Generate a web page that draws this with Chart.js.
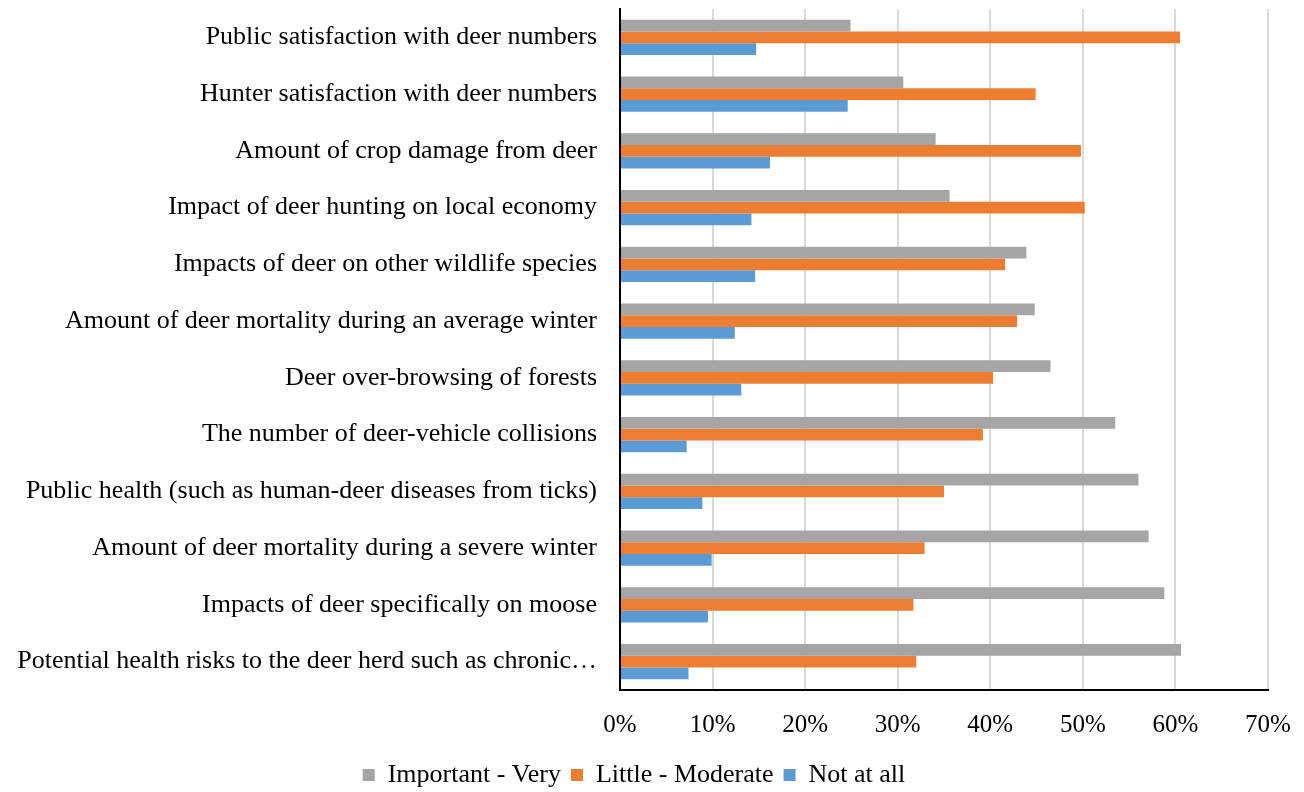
<!DOCTYPE html>
<html>
<head>
<meta charset="utf-8">
<script src="https://cdn.jsdelivr.net/npm/chart.js@4"></script>
<style>
  html, body { margin: 0; padding: 0; background: #fff; }
  #wrap { width: 1304px; height: 792px; }
</style>
</head>
<body>
<div id="wrap"><canvas id="deerChart"></canvas></div>
<script>
var categories = [
  "Public satisfaction with deer numbers",
  "Hunter satisfaction with deer numbers",
  "Amount of crop damage from deer",
  "Impact of deer hunting on local economy",
  "Impacts of deer on other wildlife species",
  "Amount of deer mortality during an average winter",
  "Deer over-browsing of forests",
  "The number of deer-vehicle collisions",
  "Public health (such as human-deer diseases from ticks)",
  "Amount of deer mortality during a severe winter",
  "Impacts of deer specifically on moose",
  "Potential health risks to the deer herd such as chronic\u2026"
];
var importantVery = [24.9, 30.6, 34.1, 35.6, 43.9, 44.8, 46.5, 53.5, 56.0, 57.1, 58.8, 60.6];
var littleModerate = [60.5, 44.9, 49.8, 50.2, 41.6, 42.9, 40.3, 39.2, 35.0, 32.9, 31.7, 32.0];
var notAtAll = [14.7, 24.6, 16.2, 14.2, 14.6, 12.4, 13.1, 7.2, 8.9, 9.9, 9.5, 7.4];
var xTicks = [0, 10, 20, 30, 40, 50, 60, 70];

window.addEventListener("DOMContentLoaded", function () {
  var ctx = document.getElementById("deerChart").getContext("2d");
  var serif = "'Liberation Serif', 'Times New Roman', serif";
  var labelFont = { family: serif, size: 26 };
  var tickFont = { family: serif, size: 25 };
  var deerChart = new Chart(ctx, {
    type: "bar",
    data: {
      labels: categories,
      datasets: [
        { label: "Important - Very", data: importantVery, backgroundColor: "#a5a5a5" },
        { label: "Little - Moderate", data: littleModerate, backgroundColor: "#ed7d31" },
        { label: "Not at all", data: notAtAll, backgroundColor: "#5b9bd5" }
      ]
    },
    options: {
      indexAxis: "y",
      responsive: true,
      maintainAspectRatio: false,
      animation: false,
      categoryPercentage: 0.62,
      barPercentage: 1.0,
      layout: { padding: { top: 9, right: 36, left: 0, bottom: -6 } },
      plugins: {
        legend: {
          position: "bottom",
          labels: {
            color: "#000",
            font: labelFont,
            boxWidth: 12,
            boxHeight: 12,
            padding: 10
          }
        },
        tooltip: { enabled: false }
      },
      scales: {
        x: {
          min: 0,
          max: 70,
          afterBuildTicks: function (scale) {
            scale.ticks = xTicks.map(function (v) { return { value: v }; });
          },
          afterFit: function (scale) {
            scale.height = 62;
            scale.paddingLeft = 0;
            scale.paddingRight = 0;
          },
          grid: { color: "#d9d9d9", lineWidth: 2, drawTicks: false },
          border: { display: true, color: "#000", width: 2 },
          ticks: {
            color: "#000",
            font: tickFont,
            padding: 20,
            callback: function (v) { return v + "%"; }
          }
        },
        y: {
          afterFit: function (scale) {
            scale.width = 620;
            scale.paddingTop = 0;
            scale.paddingBottom = 0;
          },
          grid: { display: false, drawTicks: false },
          border: { display: true, color: "#000", width: 2 },
          ticks: { color: "#000", font: labelFont, padding: 23, autoSkip: false }
        }
      }
    }
  });
});
</script>
</body>
</html>
